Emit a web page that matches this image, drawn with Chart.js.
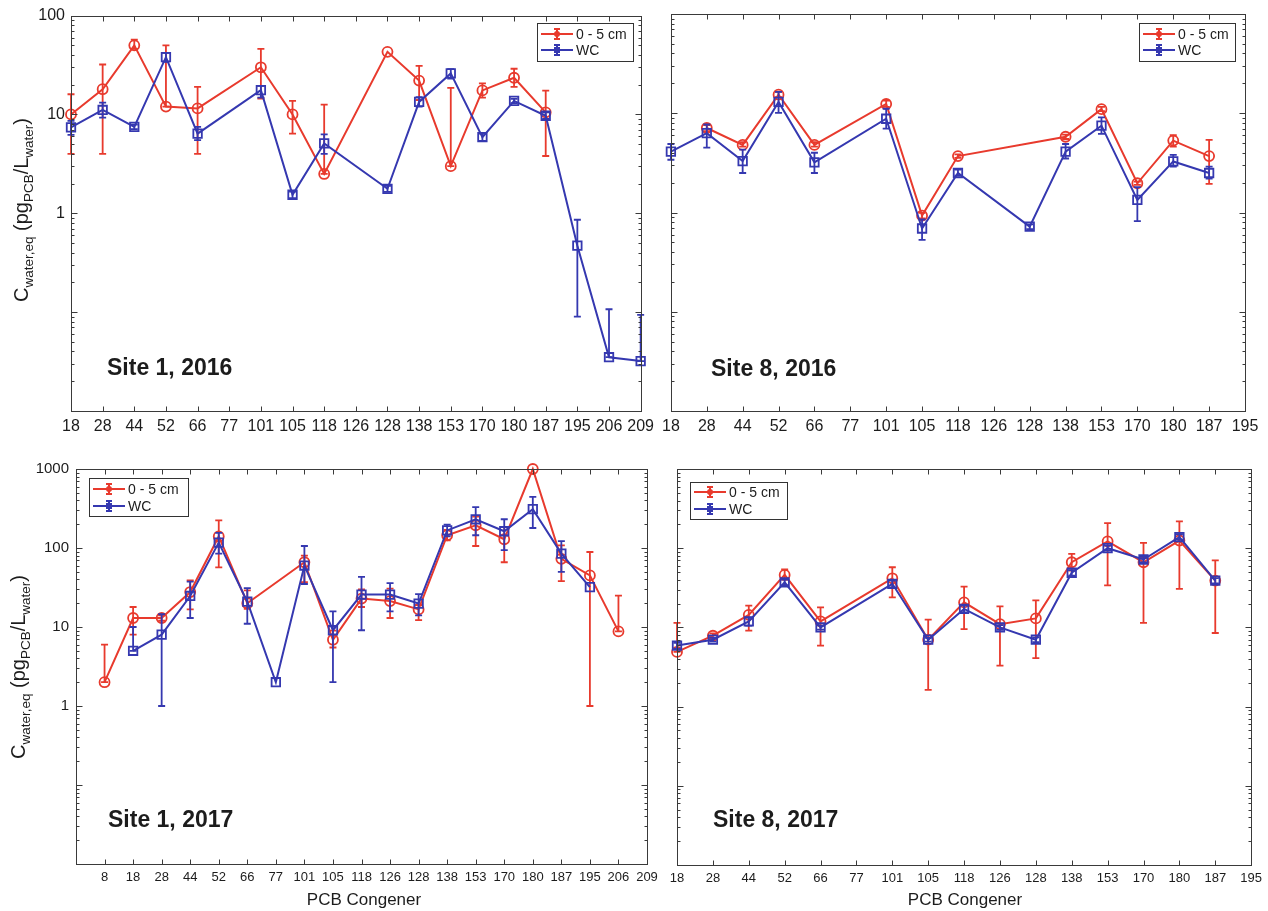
<!DOCTYPE html>
<html>
<head>
<meta charset="utf-8">
<script src="https://cdn.jsdelivr.net/npm/chart.js@4.4.0/dist/chart.umd.min.js"></script>
<style>
  html, body { margin: 0; padding: 0; background: #fff; width: 1268px; height: 911px; overflow: hidden; }
  .panel { position: absolute; }
</style>
</head>
<body>
<div class="panel" style="left:0;top:0;width:660px;height:445px"><canvas id="c1"></canvas></div>
<div class="panel" style="left:656px;top:0;width:612px;height:445px"><canvas id="c2"></canvas></div>
<div class="panel" style="left:0;top:445px;width:670px;height:466px"><canvas id="c3"></canvas></div>
<div class="panel" style="left:660px;top:445px;width:608px;height:466px"><canvas id="c4"></canvas></div>
<script>
// ---- congener labels ----
const cats2016s1 = ['18','28','44','52','66','77','101','105','118','126','128','138','153','170','180','187','195','206','209'];
const catsSite8 = ['18','28','44','52','66','77','101','105','118','126','128','138','153','170','180','187','195'];
const cats2017s1 = ['8','18','28','44','52','66','77','101','105','118','126','128','138','153','170','180','187','195','206','209'];

const seriesNames = ['0 - 5 cm', 'WC'];
const yLabels2016 = [1, 10, 100];
const yLabels2017 = [1, 10, 100, 1000];

// ---- Site 1, 2016 ----
const s1y16Sed   = [10, 18, 50, 12, 11.5, null, 30, 10, 2.5, null, 43, 22, 3, 17.5, 23.5, 10.5, null, null, null];
const s1y16SedLo = [4, 4, 46, 12, 4, null, 14.5, 6.4, 2.5, null, 43, 14, 3, 14.8, 19, 3.8, null, null, null];
const s1y16SedHi = [16, 32, 57, 50, 19, null, 46, 13.7, 12.6, null, 43, 31, 18.6, 20.6, 29, 17.4, null, null, null];
const s1y16Wc    = [7.4, 11.1, 7.5, 38, 6.4, null, 17.6, 1.54, 5.1, null, 1.77, 13.4, 26, 5.9, 13.7, 9.7, 0.47, 0.035, 0.032];
const s1y16WcLo  = [6.2, 9.3, 7.1, 34, 5.5, null, 14.8, 1.42, 4.0, null, 1.65, 12, 23, 5.4, 13, 9, 0.09, 0.035, 0.032];
const s1y16WcHi  = [8.6, 13.2, 7.9, 42, 7.5, null, 19.5, 1.66, 6.3, null, 1.9, 15, 28.8, 6.4, 14.4, 10.5, 0.86, 0.107, 0.094];

// ---- Site 8, 2016 ----
const s8y16Sed   = [null, 7.1, 4.8, 15.4, 4.8, null, 12.4, 0.93, 3.7, null, null, 5.8, 11, 1.97, 5.3, 3.7, null];
const s8y16SedLo = [null, 6.6, 4.6, 14.5, 4.6, null, 11.6, 0.87, 3.55, null, null, 5.5, 10.5, 1.9, 4.6, 1.94, null];
const s8y16SedHi = [null, 7.6, 5.1, 16.4, 5.1, null, 13.4, 0.99, 3.85, null, null, 6.1, 11.6, 2.05, 6.0, 5.4, null];
const s8y16Wc    = [4.1, 6.3, 3.3, 13, 3.2, null, 8.8, 0.69, 2.5, null, 0.72, 4.1, 7.5, 1.34, 3.27, 2.5, null];
const s8y16WcLo  = [3.4, 4.5, 2.5, 10.1, 2.5, null, 7.0, 0.53, 2.35, null, 0.68, 3.5, 6.2, 0.82, 2.9, 2.2, null];
const s8y16WcHi  = [4.9, 7.7, 4.3, 16.4, 4.0, null, 11.1, 0.85, 2.7, null, 0.76, 4.9, 9.1, 1.8, 3.8, 2.9, null];

// ---- Site 1, 2017 ----
const s1y17Sed   = [2, 13, 13, 27.7, 140, 20, null, 66, 6.9, 22.9, 21.3, 16.7, 145, 194, 129, 1000, 73, 45, 8.8, null];
const s1y17SedLo = [2, 8, 12, 16.7, 57, 17, null, 37, 5.5, 17.9, 13, 12.2, 125, 106, 66, 1000, 38, 1, 8.8, null];
const s1y17SedHi = [6, 17.9, 14, 39, 224, 29, null, 80, 9, 30, 30.6, 19, 170, 250, 184, 1000, 108, 89, 25, null];
const s1y17Wc    = [null, 5, 8, 24.7, 117, 20.9, 2, 60, 9.1, 25.7, 25.7, 19.8, 167, 231, 163, 310, 85, 32, null, null];
const s1y17WcLo  = [null, 5, 1, 13, 85, 11, 2, 35, 2, 9.1, 15.8, 14, 140, 145, 94, 179, 50, 32, null, null];
const s1y17WcHi  = [null, 10, 14.5, 37.5, 155, 31, 2, 106, 15.8, 43, 36, 26, 198, 330, 231, 443, 122, 32, null, null];

// ---- Site 8, 2017 ----
const s8y17Sed   = [4.9, 7.85, 14.4, 46, 11.9, null, 41.7, 7.0, 20.7, 11, 13, 66.5, 122, 66.5, 125, 39, null];
const s8y17SedLo = [4.9, 7.3, 9.1, 40, 5.9, null, 24, 1.63, 9.5, 3.3, 4.1, 52, 34, 11.4, 30.6, 8.5, null];
const s8y17SedHi = [11.4, 8.4, 18.8, 54, 17.9, null, 57.5, 12.5, 32.7, 18.4, 22, 85, 207, 117, 218, 70, null];
const s8y17Wc    = [5.9, 7.0, 11.9, 37, 10, null, 35.5, 7.0, 17.1, 10, 7.0, 49, 100, 72, 138, 39, null];
const s8y17WcLo  = [5.4, 6.6, 10.5, 34, 9.4, null, 32, 6.6, 15.5, 9.3, 6.5, 45, 93, 66, 128, 36, null];
const s8y17WcHi  = [6.4, 7.4, 13.3, 40, 10.6, null, 39, 7.4, 18.9, 10.7, 7.5, 53, 108, 78, 150, 42, null];

// ---- styling ----
const RED = '#e83a2d';
const BLUE = '#3538b0';
const AXIS = '#3a3a3a';
const TEXT = '#1c1c1c';
const FONT = "'Liberation Sans', Arial, Helvetica, sans-serif";

// draws a rotated axis title with subscripts
function drawYTitle(ctx, cx, cy) {
  const segs = [['C', 0], ['water,eq', 1], [' (pg', 0], ['PCB', 1], ['/L', 0], ['water', 1], [')', 0]];
  const fMain = '20px ' + FONT, fSub = '13.5px ' + FONT;
  ctx.save();
  ctx.translate(cx, cy);
  ctx.rotate(-Math.PI / 2);
  ctx.fillStyle = TEXT;
  ctx.textBaseline = 'alphabetic';
  let total = 0;
  segs.forEach(s => { ctx.font = s[1] ? fSub : fMain; total += ctx.measureText(s[0]).width; });
  let xx = -total / 2;
  segs.forEach(s => {
    ctx.font = s[1] ? fSub : fMain;
    ctx.fillText(s[0], xx, s[1] ? 5 : 0);
    xx += ctx.measureText(s[0]).width;
  });
  ctx.restore();
}

function drawLegend(ctx, bx, by, w, h, rows) {
  ctx.save();
  ctx.fillStyle = '#fff';
  ctx.fillRect(bx, by, w, h);
  ctx.strokeStyle = '#333';
  ctx.lineWidth = 1;
  ctx.strokeRect(Math.round(bx) + 0.5, Math.round(by) + 0.5, w, h);
  const colors = [RED, BLUE];
  rows.forEach((ry, k) => {
    const yy = by + ry;
    const c = colors[k];
    ctx.strokeStyle = c;
    ctx.fillStyle = c;
    ctx.lineWidth = 2;
    ctx.beginPath();
    ctx.moveTo(bx + 4, yy); ctx.lineTo(bx + 36, yy);
    const ex = bx + 20;
    ctx.moveTo(ex, yy - 5); ctx.lineTo(ex, yy + 5);
    ctx.moveTo(ex - 3, yy - 5); ctx.lineTo(ex + 3, yy - 5);
    ctx.moveTo(ex - 3, yy + 5); ctx.lineTo(ex + 3, yy + 5);
    ctx.stroke();
    ctx.beginPath();
    if (k === 0) ctx.arc(ex, yy, 3, 0, Math.PI * 2);
    else ctx.rect(ex - 3, yy - 3, 6, 6);
    ctx.fill();
    ctx.fillStyle = TEXT;
    ctx.font = '14px ' + FONT;
    ctx.textBaseline = 'middle';
    ctx.fillText(seriesNames[k], bx + 39, yy + 1);
  });
  ctx.restore();
}

const decor = {
  id: 'decor',
  afterDatasetDraw(chart, args) {
    const ds = chart.data.datasets[args.index];
    if (!ds.errLo) return;
    const y = chart.scales.y, ctx = chart.ctx;
    ctx.save();
    ctx.strokeStyle = ds.borderColor;
    ctx.lineWidth = 1.8;
    args.meta.data.forEach((pt, i) => {
      const lo = ds.errLo[i], hi = ds.errHi[i];
      if (ds.data[i] == null || lo == null || hi == null) return;
      const y1 = y.getPixelForValue(lo), y2 = y.getPixelForValue(hi);
      if (Math.abs(y1 - y2) < 1.5) return;
      ctx.beginPath();
      ctx.moveTo(pt.x, y1); ctx.lineTo(pt.x, y2);
      ctx.moveTo(pt.x - 3.5, y1); ctx.lineTo(pt.x + 3.5, y1);
      ctx.moveTo(pt.x - 3.5, y2); ctx.lineTo(pt.x + 3.5, y2);
      ctx.stroke();
    });
    ctx.restore();
  },
  afterDatasetsDraw(chart) {
    const { ctx, chartArea: a, scales: { x, y } } = chart;
    ctx.save();
    ctx.strokeStyle = AXIS;
    ctx.lineWidth = 1;
    const L = Math.round(a.left) + 0.5, R = Math.round(a.right) + 0.5;
    const T = Math.round(a.top) + 0.5, B = Math.round(a.bottom) + 0.5;
    ctx.strokeRect(L, T, R - L, B - T);
    ctx.beginPath();
    const n = chart.data.labels.length;
    for (let i = 0; i < n; i++) {
      const px = Math.round(x.getPixelForValue(i)) + 0.5;
      ctx.moveTo(px, B); ctx.lineTo(px, B - 5);
      ctx.moveTo(px, T); ctx.lineTo(px, T + 5);
    }
    const e0 = Math.floor(Math.log10(y.min) + 1e-9), e1 = Math.ceil(Math.log10(y.max) - 1e-9);
    for (let e = e0; e <= e1; e++) {
      for (let m = 1; m <= 9; m++) {
        const v = m * Math.pow(10, e);
        if (v < y.min * 0.999 || v > y.max * 1.001) continue;
        const py = Math.round(y.getPixelForValue(v)) + 0.5;
        const len = m === 1 ? 6 : 3;
        ctx.moveTo(L, py); ctx.lineTo(L + len, py);
        ctx.moveTo(R, py); ctx.lineTo(R - len, py);
      }
    }
    ctx.stroke();
    ctx.restore();
  },
  afterDraw(chart, args, o) {
    const { ctx, chartArea: a } = chart;
    drawLegend(ctx, o.legend[0], o.legend[1], o.legend[2], o.legend[3], o.legendRows);
    ctx.save();
    ctx.fillStyle = TEXT;
    ctx.font = 'bold 23px ' + FONT;
    ctx.textBaseline = 'middle';
    ctx.fillText(o.note, o.notePos[0], o.notePos[1]);
    if (o.xTitle) {
      ctx.font = '17px ' + FONT;
      ctx.textAlign = 'center';
      ctx.fillText('PCB Congener', o.xTitle[0], o.xTitle[1]);
    }
    ctx.restore();
    if (o.yTitle) drawYTitle(ctx, o.yTitle[0], o.yTitle[1]);
  }
};

function buildPanel(id, p) {
  const datasets = [
    {
      label: seriesNames[0], data: p.sed, errLo: p.sedLo, errHi: p.sedHi,
      borderColor: RED, backgroundColor: RED, borderWidth: 2,
      pointStyle: 'circle', pointRadius: 5, pointBorderWidth: 1.8,
      pointBackgroundColor: 'rgba(0,0,0,0)', pointBorderColor: RED,
      spanGaps: true, tension: 0, clip: false, order: 1
    },
    {
      label: seriesNames[1], data: p.wc, errLo: p.wcLo, errHi: p.wcHi,
      borderColor: BLUE, backgroundColor: BLUE, borderWidth: 2,
      pointStyle: 'rect', pointRadius: 6, pointBorderWidth: 1.8,
      pointBackgroundColor: 'rgba(0,0,0,0)', pointBorderColor: BLUE,
      spanGaps: true, tension: 0, clip: false, order: 0
    }
  ];
  return new Chart(document.getElementById(id), {
    type: 'line',
    data: { labels: p.labels, datasets },
    plugins: [decor],
    options: {
      responsive: true,
      maintainAspectRatio: false,
      animation: false,
      events: [],
      layout: { padding: { left: 0, top: p.padTop, right: p.padRight, bottom: 0 } },
      plugins: {
        legend: { display: false },
        tooltip: { enabled: false },
        decor: p.decor
      },
      scales: {
        x: {
          type: 'category',
          offset: false,
          grid: { display: false, drawTicks: false },
          border: { display: false },
          ticks: {
            autoSkip: false, maxRotation: 0, minRotation: 0, padding: 6,
            color: TEXT, font: { family: FONT, size: p.xFont }
          },
          afterFit: s => { s.height = p.xHeight; }
        },
        y: {
          type: 'logarithmic',
          min: p.yMin, max: p.yMax,
          grid: { display: false, drawTicks: false },
          border: { display: false },
          afterBuildTicks: s => { s.ticks = p.yLabels.map(v => ({ value: v })); },
          ticks: {
            display: p.yLabels.length > 0 && p.showY,
            padding: p.yPad,
            color: TEXT, font: { family: FONT, size: p.yFont },
            callback: v => String(v)
          },
          afterFit: s => { s.width = p.yWidth; }
        }
      }
    }
  });
}

// Site 1, 2016
buildPanel('c1', {
  labels: cats2016s1, sed: s1y16Sed, sedLo: s1y16SedLo, sedHi: s1y16SedHi,
  wc: s1y16Wc, wcLo: s1y16WcLo, wcHi: s1y16WcHi,
  yMin: 0.01, yMax: 100, yLabels: yLabels2016, showY: true,
  xFont: 16, yFont: 16, yPad: 6, yWidth: 71, xHeight: 34, padTop: 14, padRight: 18,
  decor: { legend: [537, 23, 96, 38], legendRows: [11, 27], note: 'Site 1, 2016', notePos: [107, 369], yTitle: [28, 210] }
});

// Site 8, 2016
buildPanel('c2', {
  labels: catsSite8, sed: s8y16Sed, sedLo: s8y16SedLo, sedHi: s8y16SedHi,
  wc: s8y16Wc, wcLo: s8y16WcLo, wcHi: s8y16WcHi,
  yMin: 0.01, yMax: 100, yLabels: yLabels2016, showY: false,
  xFont: 16, yFont: 16, yPad: 6, yWidth: 14, xHeight: 34, padTop: 14, padRight: 23,
  decor: { legend: [483, 23, 96, 38], legendRows: [11, 27], note: 'Site 8, 2016', notePos: [55, 370] }
});

// Site 1, 2017 (first category slot left empty)
buildPanel('c3', {
  labels: [''].concat(cats2017s1),
  sed: [null].concat(s1y17Sed), sedLo: [null].concat(s1y17SedLo), sedHi: [null].concat(s1y17SedHi),
  wc: [null].concat(s1y17Wc), wcLo: [null].concat(s1y17WcLo), wcHi: [null].concat(s1y17WcHi),
  yMin: 0.01, yMax: 1000, yLabels: yLabels2017, showY: true,
  xFont: 13, yFont: 15, yPad: 7, yWidth: 76, xHeight: 47, padTop: 24, padRight: 23,
  decor: { legend: [89, 33, 99, 38], legendRows: [11, 28], note: 'Site 1, 2017', notePos: [108, 376], yTitle: [25, 222], xTitle: [364, 455] }
});

// Site 8, 2017
buildPanel('c4', {
  labels: catsSite8, sed: s8y17Sed, sedLo: s8y17SedLo, sedHi: s8y17SedHi,
  wc: s8y17Wc, wcLo: s8y17WcLo, wcHi: s8y17WcHi,
  yMin: 0.01, yMax: 1000, yLabels: yLabels2017, showY: false,
  xFont: 13, yFont: 15, yPad: 7, yWidth: 17, xHeight: 46, padTop: 24, padRight: 16,
  decor: { legend: [30, 37, 97, 37], legendRows: [10, 27], note: 'Site 8, 2017', notePos: [53, 376], xTitle: [305, 455] }
});
</script>
</body>
</html>
